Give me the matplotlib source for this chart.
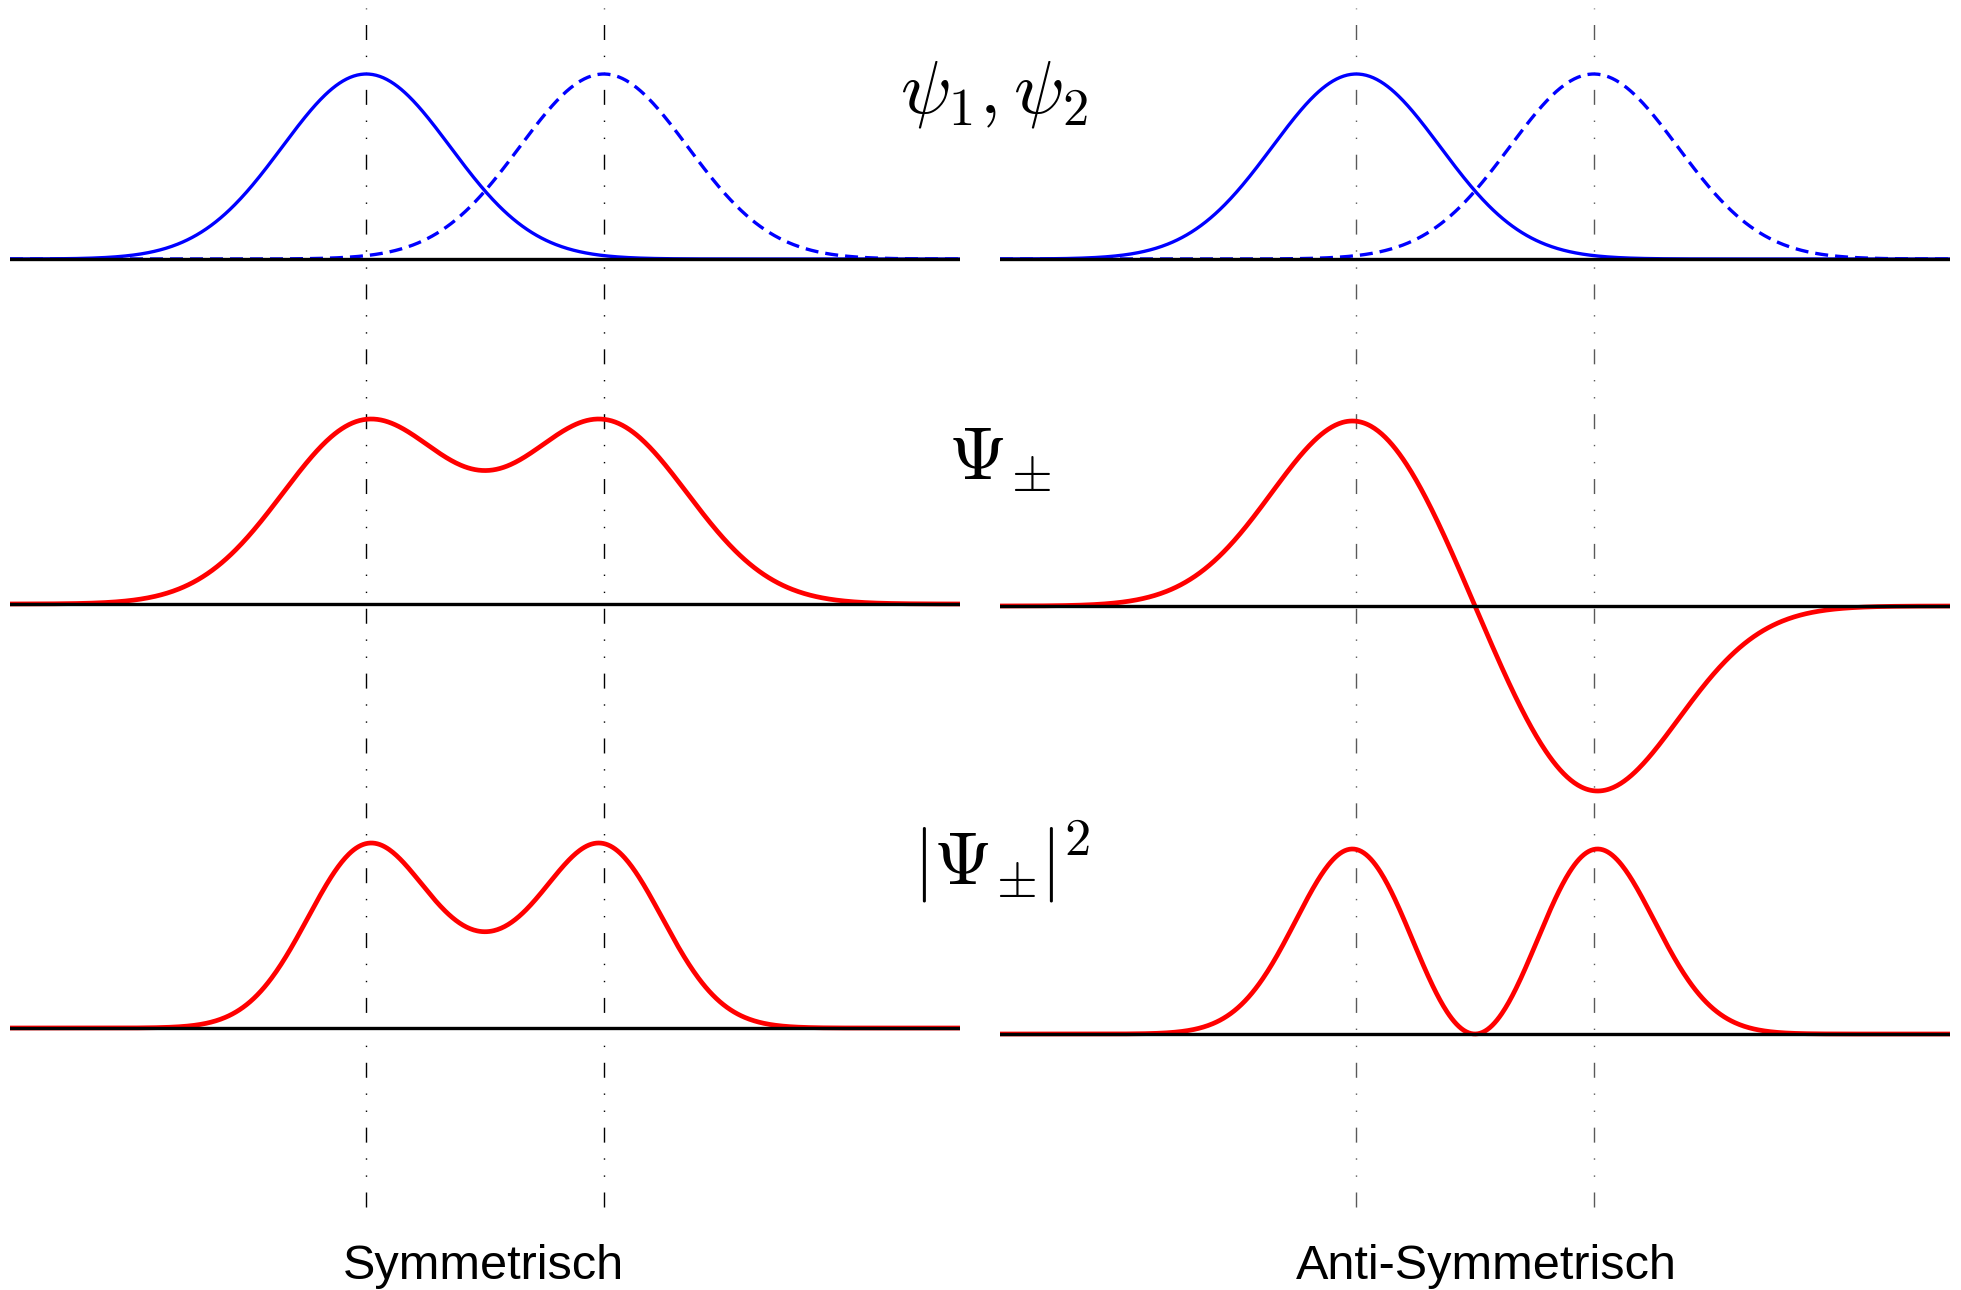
import numpy as np
import matplotlib
matplotlib.use("Agg")
from matplotlib import pyplot as plt

plt.rcParams['mathtext.fontset'] = 'cm'
plt.rcParams['font.family'] = ['Liberation Sans', 'DejaVu Sans']

# wave function parameters: psi_1,2 = exp(-(x -/+ a)^2)
a = 1.0
x_range = (-4.0, 4.0)
n_points = 800

col_titles = ['Symmetrisch', 'Anti-Symmetrisch']
row_labels = [r'$\psi_1, \psi_2$', r'$\Psi_{\!\pm}$', r'$|\Psi_{\!\pm}\!|^2$']

W, H = 1961, 1290
U = 185.0  # pixels per unit amplitude

# layout in pixels (from top of figure)
col_x0 = [10, 1000]
col_w = 950
baselines = [[259, 604, 1028], [259, 606, 1034]]
title_x = [483, 1486]

x = np.linspace(x_range[0], x_range[1], n_points)
psi1 = np.exp(-(x + a) ** 2)
psi2 = np.exp(-(x - a) ** 2)
psi_plus = psi1 + psi2
psi_minus = psi1 - psi2
psi_plus = psi_plus / psi_plus.max()
psi_minus = psi_minus / np.abs(psi_minus).max()
dens_plus = psi_plus ** 2 / (psi_plus ** 2).max()
dens_minus = psi_minus ** 2 / (psi_minus ** 2).max()

fig = plt.figure(figsize=(W / 100, H / 100), dpi=100)

dashdot = (0, (10.8, 11.3, 1.0, 11.3, 1.0, 11.3))
for c in range(2):
    # overlay axes for the vertical guide lines
    ov = fig.add_axes([col_x0[c] / W, 0, col_w / W, 1])
    ov.set_xlim(*x_range)
    ov.set_ylim(0, H)
    ov.axis('off')
    guide_col = 'k' if c == 0 else '0.35'
    for xc in (-a, a):
        ov.plot([xc, xc], [H - 1207, H - 8], color=guide_col, lw=1.0,
                linestyle=dashdot, zorder=0)

    if c == 0:
        curves = [psi_plus, dens_plus]
    else:
        curves = [psi_minus, dens_minus]

    for r in range(3):
        yb = baselines[c][r]
        ax = fig.add_axes([col_x0[c] / W, (H - yb - 1.1 * U) / H,
                           col_w / W, 2.2 * U / H])
        ax.set_xlim(*x_range)
        ax.set_ylim(-1.1, 1.1)
        ax.axis('off')
        ax.patch.set_alpha(0)
        ax.axhline(0, color='k', lw=2.4, zorder=4)
        if r == 0:
            ax.plot(x, psi1, color='#0000ff', lw=2.4, zorder=3)
            ax.plot(x, psi2, color='#0000ff', lw=2.4, linestyle=(0, (3.9, 2.1)),
                    zorder=3)
        else:
            ax.plot(x, curves[r - 1], color='#ff0000', lw=3.4, zorder=3)

    fig.text(title_x[c] / W, (H - 1279) / H, col_titles[c],
             ha='center', va='baseline', fontsize=35)

label_pos = [(994, 95), (1000, 460), (1002, 862)]
for lab, (px, py) in zip(row_labels, label_pos):
    fig.text(px / W, (H - py) / H, lab, ha='center', va='center', fontsize=54)

fig.savefig('out.png', dpi=100)
